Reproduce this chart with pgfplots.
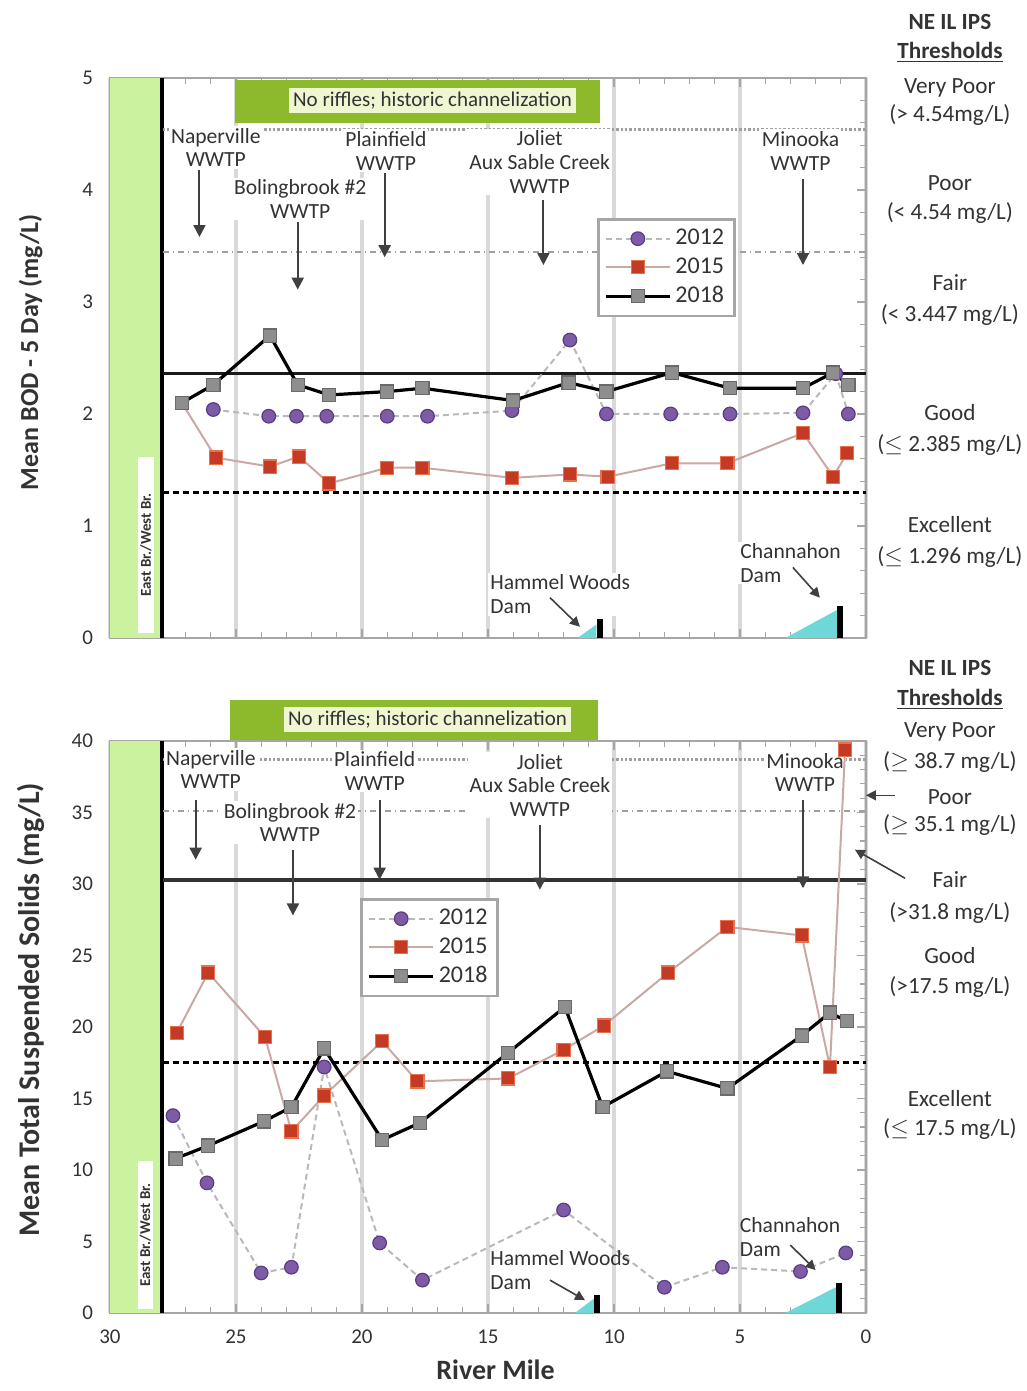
\documentclass[border=0pt]{standalone}
\usepackage{fontspec}
\setmainfont{Carlito}
\usepackage{pgfplots}
\pgfplotsset{compat=1.18}
\usetikzlibrary{arrows.meta}

\definecolor{purp}{HTML}{7D5BA6}
\definecolor{purpd}{HTML}{5A3C82}
\definecolor{redm}{HTML}{C53A24}
\definecolor{redd}{HTML}{E8704A}
\definecolor{grm}{HTML}{8E8E8E}
\definecolor{grd}{HTML}{6A6A6A}
\definecolor{line15}{HTML}{C9A9A6}
\definecolor{bandg}{HTML}{CBF29E}
\definecolor{boxg}{HTML}{8CBA2C}
\definecolor{boxl}{HTML}{EEF7D2}
\definecolor{damc}{HTML}{6ED8D8}
\definecolor{txt}{HTML}{333333}

\tikzset{
 lab/.style={font=\fontsize{10.8}{11.8}\selectfont, text=txt, align=center, fill=white, inner sep=1pt},
 thr/.style={font=\fontsize{11.6}{13}\selectfont, text=txt, align=center, inner sep=0pt},
 thb/.style={font=\fontsize{11.6}{13}\selectfont\bfseries, text=txt, align=center, inner sep=0pt},
 arr/.style={draw=black!75, line width=1pt, -{Triangle[width=6pt,length=6pt]}},
 sarr/.style={draw=black!75, line width=0.8pt, -{Triangle[width=5pt,length=5pt]}},
}
\pgfplotsset{
 common/.style={scale only axis, width=378pt, x dir=reverse, xmin=0, xmax=30,
   xtick={0,5,...,30}, minor x tick num=4, xmajorgrids,
   major grid style={draw=gray!30, line width=1.6pt},
   axis line style={draw=gray!70, line width=1.2pt},
   tick style={draw=gray!70, line width=0.6pt},
   clip=false,
   tick label style={font=\fontsize{10.5}{12}\selectfont, text=txt},
   /pgf/number format/assume math mode=true,
   xticklabel style={yshift=-5pt},
   yticklabel style={xshift=-5pt},
   legend style={draw=gray!70, line width=1.4pt, font=\fontsize{12}{13}\selectfont, text=txt, row sep=1pt, inner sep=3pt},
   legend image code/.code={\draw[mark repeat=2,mark phase=2] plot coordinates {(0pt,0pt) (16pt,0pt) (32pt,0pt)};},
   legend cell align=left},
 s12/.style={densely dashed, draw=gray!55, line width=1pt, mark=*, mark size=3.4pt,
   mark options={solid, fill=purp, draw=purpd, line width=0.6pt}},
 s15/.style={draw=line15, line width=1pt, mark=square*, mark size=3.3pt,
   mark options={solid, fill=redm, draw=redd, line width=0.6pt}},
 s18/.style={draw=black, line width=1.6pt, mark=square*, mark size=3.3pt,
   mark options={solid, fill=grm, draw=grd, line width=0.6pt}},
}

\begin{document}
\begin{tikzpicture}
\useasboundingbox (0pt,0pt) rectangle (513.5pt,695.5pt);

% ================= TOP: BOD =================
\begin{axis}[common, height=280pt, at={(55pt,376.5pt)}, anchor=south west,
  ymin=0, ymax=5, ytick={0,1,...,5}, minor y tick num=4, xticklabels={},
  ylabel={Mean BOD - 5 Day (mg/L)},
  ylabel style={at={(axis description cs:-0.105,0.51)}, anchor=center, font=\fontsize{13}{14}\selectfont\bfseries, text=txt},
  legend style={at={(rel axis cs:0.644,0.75)}, anchor=north west}]
\fill[bandg] (axis cs:30,0) rectangle (axis cs:28,5);
\node[rotate=90, fill=white, inner sep=1pt, font=\fontsize{7.5}{8}\selectfont\bfseries, text=txt, minimum width=88pt] at (axis cs:28.57,0.83) {East Br./West Br.};
\draw[black, line width=2pt] (axis cs:27.95,0) -- (axis cs:27.95,5);
\draw[gray!75, densely dotted, line width=1.2pt] (axis cs:27.9,4.54) -- (axis cs:0,4.54);
\draw[gray!75, dash dot, line width=1.2pt] (axis cs:27.9,3.447) -- (axis cs:0,3.447);
\draw[black!90, line width=1.6pt] (axis cs:27.9,2.36) -- (axis cs:0,2.36);
\draw[black, densely dashed, line width=1.6pt] (axis cs:27.9,1.296) -- (axis cs:0,1.296);
\fill[boxg] (axis cs:25.04,4.6) rectangle (axis cs:10.56,4.98);
\node[fill=boxl, inner sep=2pt, font=\fontsize{10.5}{11}\selectfont, text=txt] at (axis cs:17.2,4.8) {No riffles; historic channelization};
\node[lab] at (axis cs:25.8,4.38) {Naperville\\WWTP};
\draw[arr] (axis cs:26.45,4.18) -- (axis cs:26.45,3.58);
\node[lab] at (axis cs:22.45,3.92) {Bolingbrook \#2\\WWTP};
\draw[arr] (axis cs:22.55,3.71) -- (axis cs:22.55,3.11);
\node[lab] at (axis cs:19.05,4.35) {Plainfield\\WWTP};
\draw[arr] (axis cs:19.1,4.15) -- (axis cs:19.1,3.40);
\node[lab] at (axis cs:12.95,4.25) {Joliet\\Aux Sable Creek\\WWTP};
\draw[arr] (axis cs:12.8,3.91) -- (axis cs:12.8,3.33);
\node[lab] at (axis cs:2.6,4.35) {Minooka\\WWTP};
\draw[arr] (axis cs:2.5,4.1) -- (axis cs:2.5,3.33);
\fill[damc] (axis cs:11.45,0) -- (axis cs:10.7,0) -- (axis cs:10.7,0.12) -- cycle;
\fill[black] (axis cs:10.68,0) rectangle (axis cs:10.45,0.17);
\node[lab, align=left, anchor=west] at (axis cs:15.0,0.39) {Hammel Woods\\Dam};
\draw[sarr] (axis cs:12.54,0.36) -- (axis cs:11.35,0.1);
\fill[damc] (axis cs:3.2,0) -- (axis cs:1.15,0) -- (axis cs:1.15,0.25) -- cycle;
\fill[black] (axis cs:1.15,0) rectangle (axis cs:0.9,0.29);
\node[lab, align=left, anchor=west] at (axis cs:5.08,0.67) {Channahon\\Dam};
\draw[sarr] (axis cs:2.9,0.63) -- (axis cs:1.83,0.36);
\node[thb] at (axis cs:-3.33,5.5) {NE IL IPS};
\node[thb] at (axis cs:-3.33,5.23) {\underline{Thresholds}};
\node[thr] at (axis cs:-3.33,4.91) {Very Poor};
\node[thr] at (axis cs:-3.33,4.67) {(> 4.54mg/L)};
\node[thr] at (axis cs:-3.33,4.06) {Poor};
\node[thr] at (axis cs:-3.33,3.79) {(< 4.54 mg/L)};
\node[thr] at (axis cs:-3.33,3.17) {Fair};
\node[thr] at (axis cs:-3.33,2.88) {(< 3.447 mg/L)};
\node[thr] at (axis cs:-3.33,2.01) {Good};
\node[thr] at (axis cs:-3.33,1.72) {($\leq$ 2.385 mg/L)};
\node[thr] at (axis cs:-3.33,1.01) {Excellent};
\node[thr] at (axis cs:-3.33,0.72) {($\leq$ 1.296 mg/L)};
\addplot[s12] coordinates {(25.9,2.04) (23.7,1.98) (22.6,1.98) (21.4,1.98) (19.0,1.98) (17.4,1.98) (14.05,2.03) (11.75,2.66) (10.3,2.0) (7.75,2.0) (5.4,2.0) (2.5,2.01) (1.2,2.36) (0.7,2.0)};
\addlegendentry{2012}
\addplot[s15] coordinates {(27.15,2.1) (25.8,1.61) (23.65,1.53) (22.5,1.62) (21.3,1.38) (19.0,1.52) (17.6,1.52) (14.05,1.43) (11.75,1.46) (10.25,1.44) (7.7,1.56) (5.5,1.56) (2.5,1.83) (1.3,1.44) (0.75,1.65)};
\addlegendentry{2015}
\addplot[s18] coordinates {(27.15,2.1) (25.9,2.26) (23.65,2.7) (22.55,2.26) (21.3,2.17) (19.0,2.2) (17.6,2.23) (14.0,2.12) (11.8,2.28) (10.3,2.2) (7.7,2.37) (5.4,2.23) (2.5,2.23) (1.3,2.37) (0.7,2.26)};
\addlegendentry{2018}
\end{axis}

% ================= BOTTOM: TSS =================
\begin{axis}[common, height=286pt, at={(55pt,39pt)}, anchor=south west,
  ymin=0, ymax=40, ytick={0,5,...,40}, minor y tick num=4,
  xlabel={River Mile},
  xlabel style={at={(axis description cs:0.51,-0.1)}, anchor=center, font=\fontsize{14}{15}\selectfont\bfseries, text=txt},
  ylabel={Mean Total Suspended Solids (mg/L)},
  ylabel style={at={(axis description cs:-0.105,0.53)}, anchor=center, font=\fontsize{15}{16}\selectfont\bfseries, text=txt},
  legend style={at={(rel axis cs:0.331,0.7255)}, anchor=north west}]
\fill[bandg] (axis cs:30,0) rectangle (axis cs:28,40);
\node[rotate=90, fill=white, inner sep=1pt, font=\fontsize{7.5}{8}\selectfont\bfseries, text=txt, minimum width=74pt] at (axis cs:28.6,5.45) {East Br./West Br.};
\draw[black, line width=2pt] (axis cs:27.95,0) -- (axis cs:27.95,40);
\draw[gray!75, densely dotted, line width=1.2pt] (axis cs:27.9,38.7) -- (axis cs:0,38.7);
\draw[gray!75, dash dot, line width=1.2pt] (axis cs:27.9,35.1) -- (axis cs:0,35.1);
\draw[black!80, line width=2pt] (axis cs:27.9,30.3) -- (axis cs:0,30.3);
\draw[black, densely dashed, line width=1.6pt] (axis cs:27.9,17.5) -- (axis cs:0,17.5);
\fill[boxg] (axis cs:25.24,40.1) rectangle (axis cs:10.63,42.9);
\node[fill=boxl, inner sep=2pt, font=\fontsize{10.5}{11}\selectfont, text=txt] at (axis cs:17.4,41.5) {No riffles; historic channelization};
\node[lab] at (axis cs:26.0,38.0) {Naperville\\WWTP};
\draw[arr] (axis cs:26.6,35.9) -- (axis cs:26.6,31.7);
\node[lab] at (axis cs:22.86,34.3) {Bolingbrook \#2\\WWTP};
\draw[arr] (axis cs:22.74,32.4) -- (axis cs:22.74,27.8);
\node[lab] at (axis cs:19.5,37.9) {Plainfield\\WWTP};
\draw[arr] (axis cs:19.3,35.9) -- (axis cs:19.3,30.3);
\node[lab] at (axis cs:12.94,36.9) {Joliet\\Aux Sable Creek\\WWTP};
\draw[arr] (axis cs:12.94,34.1) -- (axis cs:12.94,29.6);
\node[lab] at (axis cs:2.42,37.8) {Minooka\\WWTP};
\draw[arr] (axis cs:2.5,35.9) -- (axis cs:2.5,29.7);
\addplot[s12] coordinates {(27.5,13.8) (26.15,9.1) (24.0,2.8) (22.8,3.2) (21.5,17.2) (19.3,4.9) (17.6,2.3) (12.0,7.2) (8.0,1.8) (5.7,3.2) (2.6,2.9) (0.8,4.2)};
\addlegendentry{2012}
\addplot[s15] coordinates {(27.35,19.6) (26.1,23.8) (23.85,19.3) (22.8,12.7) (21.5,15.2) (19.2,19.0) (17.8,16.2) (14.2,16.4) (12.0,18.4) (10.4,20.1) (7.85,23.8) (5.5,27.0) (2.55,26.4) (1.43,17.2) (0.83,39.4)};
\addlegendentry{2015}
\addplot[s18] coordinates {(27.4,10.8) (26.1,11.7) (23.9,13.4) (22.8,14.4) (21.5,18.5) (19.2,12.1) (17.7,13.3) (14.2,18.2) (11.95,21.4) (10.45,14.4) (7.9,16.9) (5.5,15.7) (2.55,19.4) (1.43,21.0) (0.75,20.4)};
\addlegendentry{2018}
\fill[damc] (axis cs:11.55,0) -- (axis cs:10.8,0) -- (axis cs:10.8,1.0) -- cycle;
\fill[black] (axis cs:10.8,0) rectangle (axis cs:10.55,1.26);
\node[lab, align=left, anchor=west, fill=none] at (axis cs:15.0,3.0) {Hammel Woods\\Dam};
\draw[sarr] (axis cs:12.54,2.3) -- (axis cs:11.15,0.9);
\fill[damc] (axis cs:3.2,0) -- (axis cs:1.2,0) -- (axis cs:1.2,1.8) -- cycle;
\fill[black] (axis cs:1.2,0) rectangle (axis cs:0.95,2.1);
\node[lab, align=left, anchor=west, fill=none] at (axis cs:5.1,5.3) {Channahon\\Dam};
\draw[sarr] (axis cs:3.0,4.75) -- (axis cs:2.0,3.0);
\node[thb] at (axis cs:-3.33,45.1) {NE IL IPS};
\node[thb] at (axis cs:-3.33,42.9) {\underline{Thresholds}};
\node[thr] at (axis cs:-3.33,40.6) {Very Poor};
\node[thr] at (axis cs:-3.33,38.5) {($\geq$ 38.7 mg/L)};
\node[thr] at (axis cs:-3.33,36.1) {Poor};
\node[thr] at (axis cs:-3.33,34.1) {($\geq$ 35.1 mg/L)};
\node[thr] at (axis cs:-3.33,30.3) {Fair};
\node[thr] at (axis cs:-3.33,28.0) {(>31.8 mg/L)};
\node[thr] at (axis cs:-3.33,25.0) {Good};
\node[thr] at (axis cs:-3.33,22.8) {(>17.5 mg/L)};
\node[thr] at (axis cs:-3.33,15.0) {Excellent};
\node[thr] at (axis cs:-3.33,12.9) {($\leq$ 17.5 mg/L)};
\draw[sarr] (axis cs:-1.15,36.2) -- (axis cs:0,36.2);
\draw[sarr] (axis cs:-1.55,30.4) -- (axis cs:0.44,32.4);
\end{axis}
\end{tikzpicture}
\end{document}
